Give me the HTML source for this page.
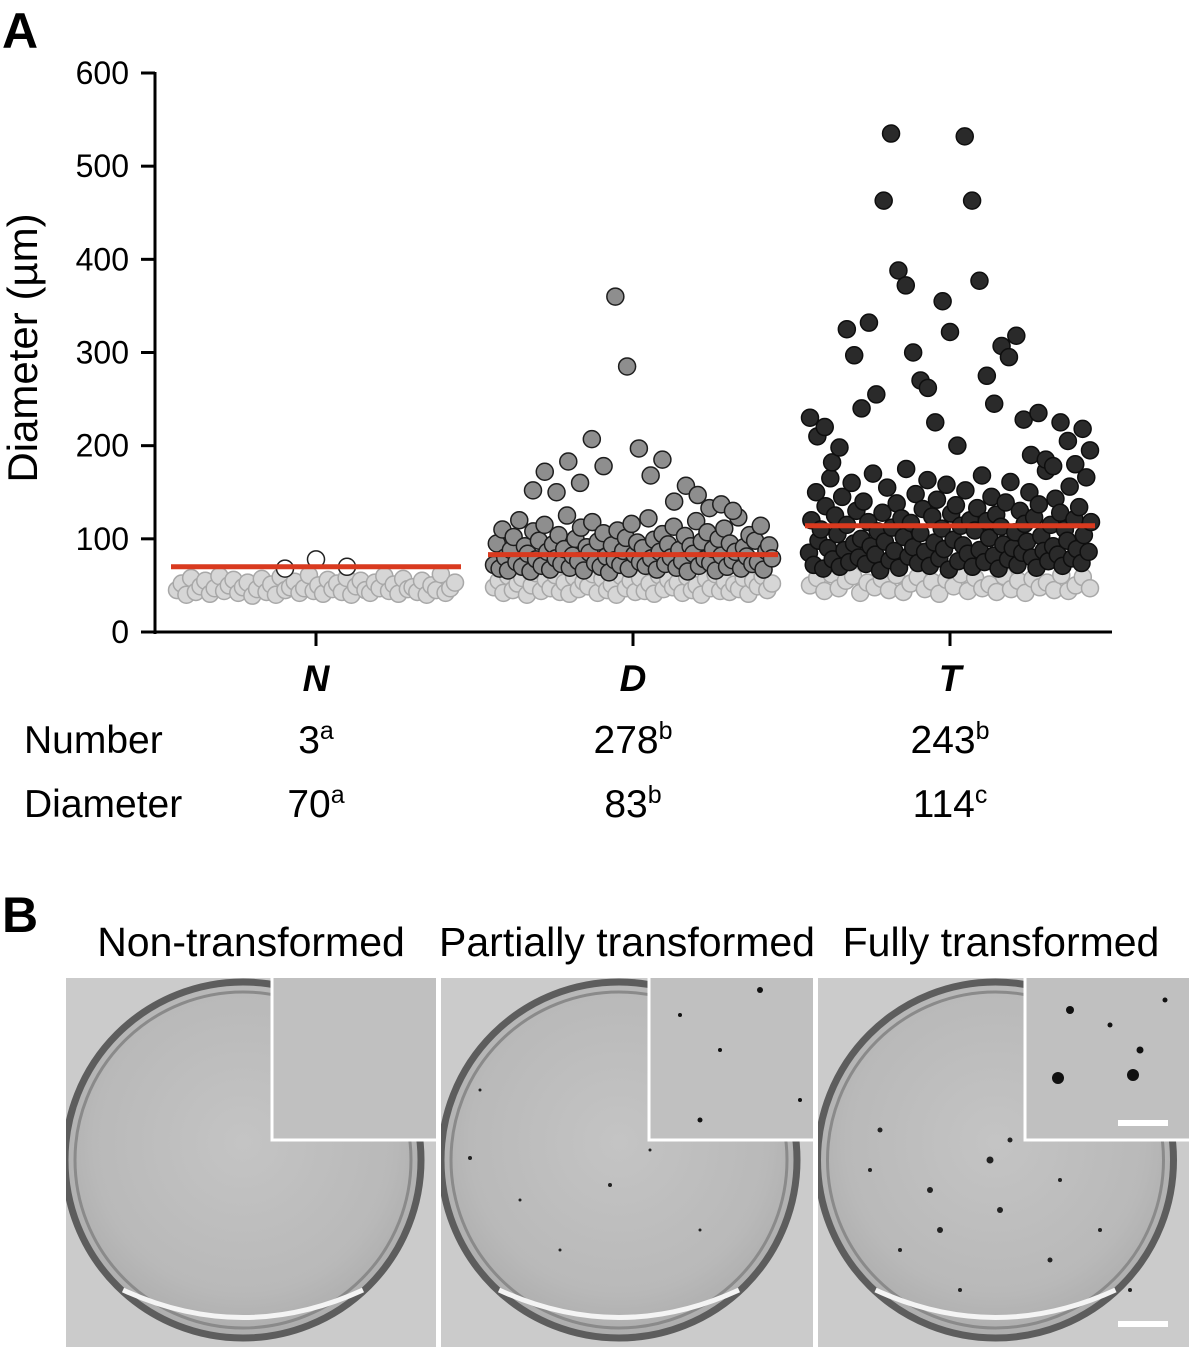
<!DOCTYPE html>
<html><head><meta charset="utf-8">
<style>
body{margin:0;background:#fff;}
svg{display:block;font-family:"Liberation Sans",Arial,sans-serif;}
</style></head>
<body>
<svg id="fig" width="1191" height="1357" viewBox="0 0 1191 1357" xmlns="http://www.w3.org/2000/svg">
<defs>
<radialGradient id="dishg" cx="0.5" cy="0.45" r="0.6">
<stop offset="0" stop-color="#c4c4c4"/><stop offset="0.7" stop-color="#b9b9b9"/><stop offset="1" stop-color="#a8a8a8"/>
</radialGradient>
<clipPath id="c1"><rect x="66" y="978" width="370" height="369"/></clipPath>
<clipPath id="c2"><rect x="441" y="978" width="372" height="369"/></clipPath>
<clipPath id="c3"><rect x="818" y="978" width="371" height="369"/></clipPath>
</defs>
<text x="2" y="48" font-size="50" font-weight="bold">A</text>
<text x="2" y="932" font-size="50" font-weight="bold">B</text>
<g id="chart"></g>
<g id="table"></g>
<g id="photos"></g>
</svg>
<script>
const categories=["N","D","T"];
const numberLabels=["3","278","243"];
const numberSup=["a","b","b"];
const diamLabels=["70","83","114"];
const diamSup=["a","b","c"];
const means=[70,83,114];
const yTicks=[0,100,200,300,400,500,600];
const bgN=[45,52,40,58,43,49,55,41,47,60,44,50,56,42,48,53,39,46,57,43,51,40,59,45,48,54,42,47,61,44,50,41,56,46,52,43,58,40,49,55,45,42,53,47,60,44,51,41,57,46,48,43,55,40,50,45,62,42,47,53];
const bgD=[48,55,42,60,45,52,58,40,50,63,44,56,47,61,43,53,41,59,46,54,49,62,42,57,45,51,40,60,47,55,43,58,44,52,41,61,46,56,48,53,42,59,45,50,40,57,47,62,44,54,43,51,46,58,41,55,49,60,45,52];
const bgT=[50,58,44,62,47,55,60,42,53,48,57,45,61,43,52,59,46,54,41,56,49,62,44,58,47,51,43,60,46,55,42,57,48,53,45,61,44,50,59,47];
const whiteN=[68,78,70];
const mainD=[72,95,68,110,80,66,88,102,75,120,70,92,84,65,108,78,98,71,115,86,67,94,79,104,73,89,125,69,82,100,76,112,66,91,85,118,74,97,70,106,81,64,93,77,109,72,87,101,68,116,83,96,75,90,71,122,79,99,67,86,105,73,94,80,113,69,88,76,103,65,92,84,119,71,97,78,107,74,89,66,100,82,111,70,95,77,86,123,68,91,81,104,73,98,75,114,67,87,93,79];
const outD=[152,172,150,183,160,207,178,360,285,197,168,185,140,157,147,133,137,130];
const mainT=[85,120,72,150,98,110,68,135,90,165,78,125,105,70,145,88,115,75,160,95,130,80,100,140,73,118,92,170,83,108,66,128,97,155,77,112,87,138,69,122,102,175,81,117,91,148,74,106,132,86,163,71,124,96,142,79,111,89,158,67,127,99,136,76,114,93,152,84,120,70,109,133,88,168,75,119,101,145,82,126,68,113,94,139,78,161,90,107,72,130,85,116,97,150,80,123,69,137,103,87,173,76,115,92,143,83,128,71,110,98,156,79,121,89,134,74,104,166,86,118];
const outT=[230,210,220,182,198,325,297,240,332,255,463,535,388,372,300,270,262,225,355,322,200,532,463,377,275,245,307,295,318,228,190,235,185,178,225,205,180,218,195];

const NS="http://www.w3.org/2000/svg";
function el(tag,attrs,parent){const e=document.createElementNS(NS,tag);for(const k in attrs)e.setAttribute(k,attrs[k]);parent.appendChild(e);return e;}
const x0=155,x1=1112,yBase=632,yTop=73;
const yScale=v=>yBase-(v/600)*(yBase-yTop);
const centers=[316,633,950];
const xCat=i=>centers[i];
const chart=document.getElementById('chart');

function drawGroup(vals,ci,width,fill,stroke,name){
  const n=vals.length;
  vals.forEach((v,i)=>{
    const cx=xCat(ci)+(n>1?(i/(n-1)-0.5)*width:0);
    const c=el('circle',{cx:cx,cy:yScale(v),r:8.5,fill:fill,stroke:stroke,'stroke-width':1.5},chart);
    
    
  });
}
drawGroup(bgN,0,278,'#d6d6d6','#a8a8a8','point-n-background');
drawGroup(bgD,1,278,'#d6d6d6','#a8a8a8','point-d-background');
drawGroup(bgT,2,280,'#d6d6d6','#a8a8a8','point-t-background');
drawGroup(whiteN,0,62,'#ffffff','#222','point-n');
drawGroup(mainD,1,278,'#8e8e8e','#1e1e1e','point-d');
drawGroup(outD,1,200,'#8e8e8e','#1e1e1e','point-d-outlier');
drawGroup(mainT,2,282,'#2a2a2a','#0e0e0e','point-t');
drawGroup(outT,2,280,'#2a2a2a','#0e0e0e','point-t-outlier');

means.forEach((m,i)=>{
  const l=el('line',{x1:xCat(i)-145,x2:xCat(i)+145,y1:yScale(m),y2:yScale(m),stroke:'#d93a1f','stroke-width':5},chart);
  
  
});
const ya=el('line',{x1:x0,x2:x0,y1:yTop-1,y2:yBase+2,stroke:'#000','stroke-width':3},chart);

const xa=el('line',{x1:x0-2,x2:x1,y1:yBase,y2:yBase,stroke:'#000','stroke-width':3},chart);

yTicks.forEach(t=>{
  const tk=el('line',{x1:x0-14,x2:x0,y1:yScale(t),y2:yScale(t),stroke:'#000','stroke-width':3},chart);
  
  const tl=el('text',{x:129,y:yScale(t)+11,'font-size':32,'text-anchor':'end'},chart);
  tl.textContent=t;
  
});
categories.forEach((c,i)=>{
  const tk=el('line',{x1:xCat(i),x2:xCat(i),y1:yBase,y2:yBase+14,stroke:'#000','stroke-width':3},chart);
  
  const tl=el('text',{x:xCat(i),y:691,'font-size':37,'font-weight':'bold','font-style':'italic','text-anchor':'middle'},chart);
  tl.textContent=c;
  
});
const yt=el('text',{x:0,y:0,'font-size':42,'text-anchor':'middle',transform:'translate(37,348) rotate(-90)'},chart);
yt.textContent='Diameter (µm)';


const table=document.getElementById('table');
function row(label,y,vals,sups,name){
  const t=el('text',{x:24,y:y,'font-size':39},table);t.textContent=label;
  
  vals.forEach((v,i)=>{
    const tx=el('text',{x:xCat(i),y:y,'font-size':39,'text-anchor':'middle'},table);
    tx.textContent=v;
    const ts=el('tspan',{dy:-14,'font-size':25},tx);ts.textContent=sups[i];
    
  });
}
row('Number',753,numberLabels,numberSup,'number');
row('Diameter',817,diamLabels,diamSup,'diameter');

const photos=document.getElementById('photos');
const titles=['Non-transformed','Partially transformed','Fully transformed'];
const px=[66,441,818],pw=[370,372,371];
const titleX=[251,627,1001];
const dotsP2=[[470,1158,2],[520,1200,1.5],[610,1185,2],[700,1230,1.5],[560,1250,1.5],[650,1150,1.5],[480,1090,1.5]];
const dotsP3=[[880,1130,2.5],[930,1190,3],[990,1160,3.5],[1000,1210,3],[1050,1260,2.5],[960,1290,2],[900,1250,2],[1100,1230,2],[1130,1290,2],[1010,1140,2.5],[870,1170,2],[940,1230,3],[1060,1180,2]];
const insetDots2=[[680,1015,2],[760,990,3],[720,1050,2],[800,1100,2],[700,1120,2.5]];
const insetDots3=[[1070,1010,4],[1140,1050,3.5],[1058,1078,6],[1133,1075,6],[1110,1025,2.5],[1165,1000,2.5]];
titles.forEach((t,i)=>{
  const tt=el('text',{x:titleX[i],y:956,'font-size':41,'text-anchor':'middle'},photos);tt.textContent=t;
  
  const g=el('g',{'clip-path':'url(#c'+(i+1)+')'},photos);
  
  el('rect',{x:px[i],y:978,width:pw[i],height:369,fill:'#cbcbcb'},g);
  const cx=px[i]+pw[i]/2-8;
  el('circle',{cx:cx,cy:1160,r:178,fill:'url(#dishg)',stroke:'#5d5d5d','stroke-width':7},g);
  el('circle',{cx:cx,cy:1160,r:168,fill:'none',stroke:'#8a8a8a','stroke-width':3},g);
  el('path',{d:`M ${cx-120} 1290 Q ${cx} 1345 ${cx+120} 1290`,fill:'none',stroke:'#f4f4f4','stroke-width':5},g);
  (i===1?dotsP2:i===2?dotsP3:[]).forEach(d=>el('circle',{cx:d[0],cy:d[1],r:d[2],fill:'#222'},g));
  const ix=px[i]+pw[i]-164;
  const ins=el('rect',{x:ix,y:976,width:166,height:164,fill:'#c0c0c0',stroke:'#fff','stroke-width':3},g);
  
  (i===1?insetDots2:i===2?insetDots3:[]).forEach(d=>el('circle',{cx:d[0],cy:d[1],r:d[2],fill:'#111'},g));
});
const sb1=el('rect',{x:1118,y:1120,width:50,height:6,fill:'#fff'},photos);

const sb2=el('rect',{x:1118,y:1321,width:50,height:6,fill:'#fff'},photos);

</script>
</body></html>
